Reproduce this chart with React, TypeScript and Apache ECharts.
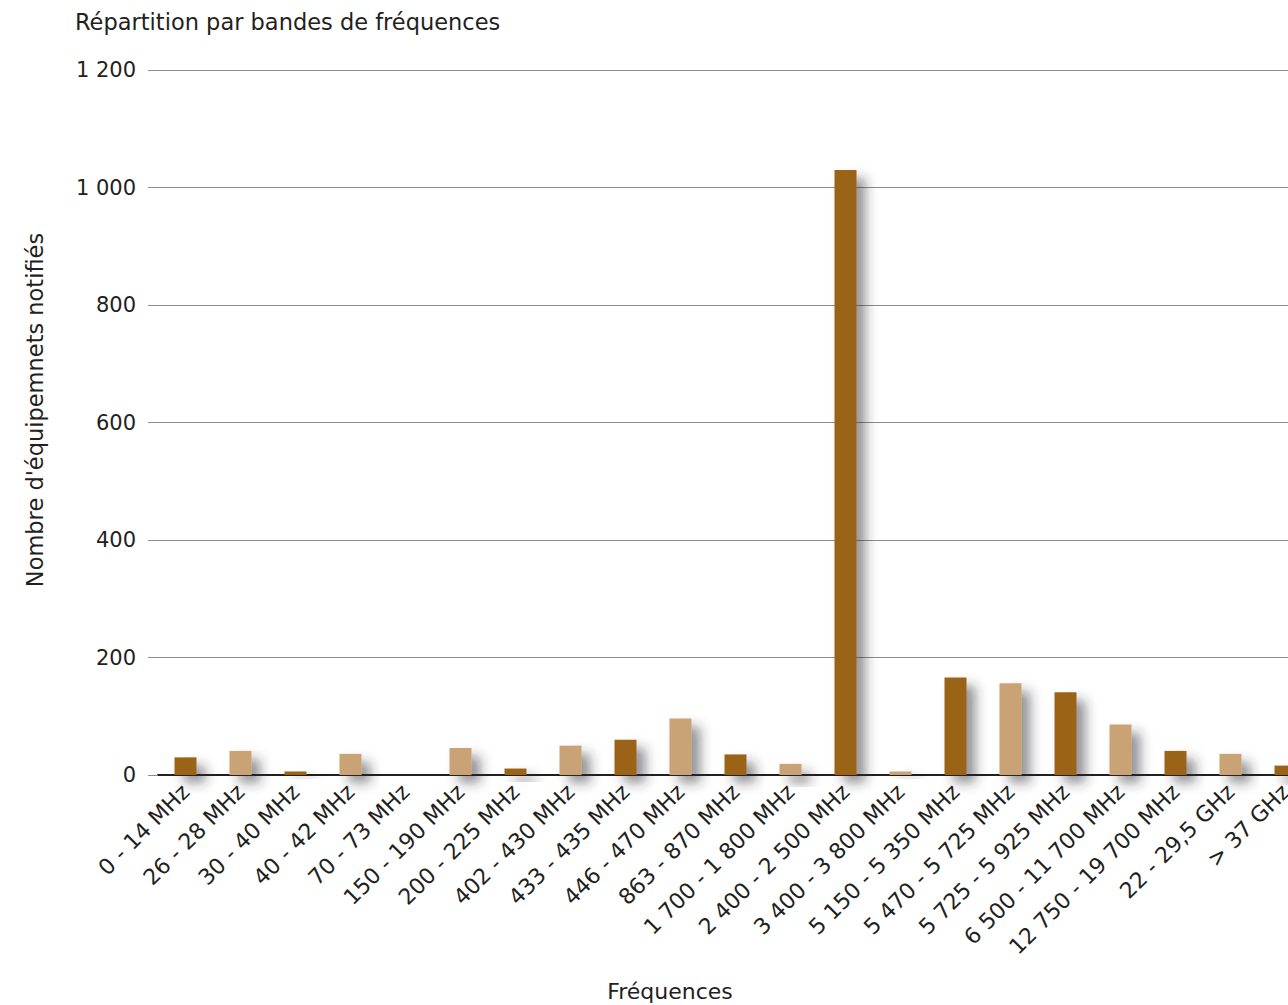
import React, { useEffect, useRef } from "react";
import * as echarts from "echarts";

const categories = [
  "0 - 14 MHz", "26 - 28 MHz", "30 - 40 MHz", "40 - 42 MHz", "70 - 73 MHz",
  "150 - 190 MHz", "200 - 225 MHz", "402 - 430 MHz", "433 - 435 MHz", "446 - 470 MHz",
  "863 - 870 MHz", "1 700 - 1 800 MHz", "2 400 - 2 500 MHz", "3 400 - 3 800 MHz",
  "5 150 - 5 350 MHz", "5 470 - 5 725 MHz", "5 725 - 5 925 MHz", "6 500 - 11 700 MHz",
  "12 750 - 19 700 MHz", "22 - 29,5 GHz", "> 37 GHz",
];
const values = [30, 41, 6, 36, 0, 46, 11, 50, 60, 96, 35, 19, 1030, 6, 166, 156, 141, 86, 41, 36, 16];
const yTicks = [0, 200, 400, 600, 800, 1000, 1200];

const DARK = "#9b6317";
const LIGHT = "#c9a274";
const FONT = "'DejaVu Sans', 'Open Sans', sans-serif";
const INK = "#231f20";

function fmt(v: number) {
  return String(v).replace(/\B(?=(\d{3})+(?!\d))/g, " ");
}

export default function App() {
  const ref = useRef<HTMLDivElement>(null);
  useEffect(() => {
    const chart = echarts.init(ref.current!, undefined, { renderer: "svg" });
    chart.setOption({
      animation: false,
      textStyle: { fontFamily: FONT },
      grid: { left: 158, right: 7, top: 70, bottom: 230, containLabel: false },
      xAxis: {
        type: "category",
        data: categories,
        boundaryGap: true,
        axisLine: { lineStyle: { color: INK, width: 2 } },
        axisTick: { show: false },
        axisLabel: {
          rotate: 45,
          interval: 0,
          margin: 13,
          color: INK,
          fontSize: 22,
          fontFamily: FONT,
        },
      },
      yAxis: {
        type: "value",
        min: yTicks[0],
        max: yTicks[yTicks.length - 1],
        interval: 200,
        axisLine: { show: false },
        axisTick: { show: true, length: 10, lineStyle: { color: "#8c8c8c" } },
        splitLine: { lineStyle: { color: "#8c8c8c", width: 1 } },
        axisLabel: {
          margin: 22,
          color: INK,
          fontSize: 21,
          fontFamily: FONT,
          formatter: (v: number) => fmt(v),
        },
      },
      series: [
        {
          type: "bar",
          barWidth: 22,
          data: values.map((v, i) => ({
            value: v,
            itemStyle: { color: i % 2 === 0 ? DARK : LIGHT },
          })),
          itemStyle: {
            shadowBlur: 12,
            shadowOffsetX: 9,
            shadowOffsetY: 8,
            shadowColor: "rgba(40,40,50,0.5)",
          },
        },
      ],
      graphic: [
        {
          type: "text",
          left: 75,
          top: 10,
          style: {
            text: "Répartition par bandes de fréquences",
            fontSize: 22.5,
            fontFamily: FONT,
            fill: INK,
          },
        },
        {
          type: "text",
          x: 35,
          y: 410,
          rotation: Math.PI / 2,
          style: {
            text: "Nombre d'équipemnets notifiés",
            fontSize: 22.5,
            fontFamily: FONT,
            fill: INK,
            align: "center",
            verticalAlign: "middle",
          },
        },
        {
          type: "text",
          x: 670,
          y: 991,
          style: {
            text: "Fréquences",
            fontSize: 22,
            fontFamily: FONT,
            fill: INK,
            align: "center",
            verticalAlign: "middle",
          },
        },
      ],
    });
    return () => chart.dispose();
  }, []);
  return (
    <div style={{ position: "absolute", left: 0, top: 0, width: 1288, height: 1005, overflow: "hidden" }}>
      <div ref={ref} style={{ width: 1320, height: 1005 }} />
    </div>
  );
}
